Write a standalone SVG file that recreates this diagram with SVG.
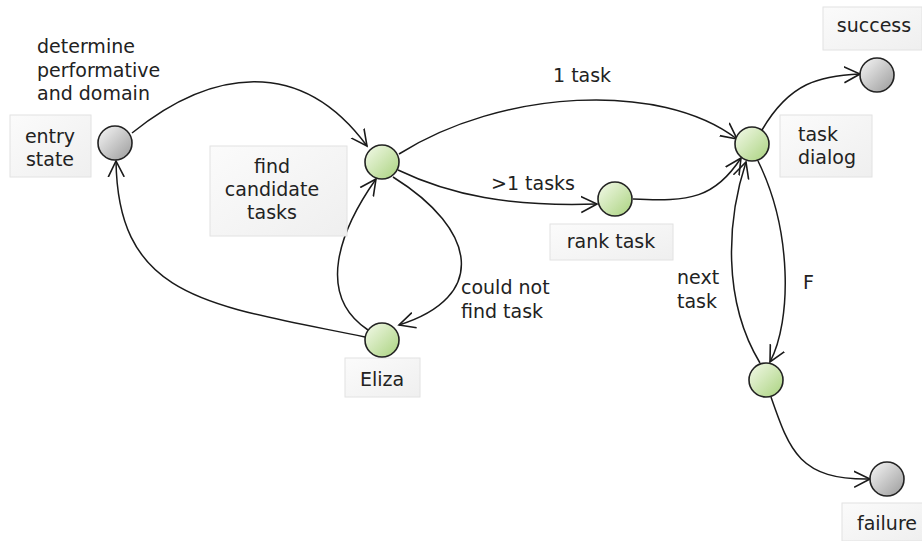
<svg xmlns="http://www.w3.org/2000/svg" width="922" height="541" viewBox="0 0 922 541">
<style>
text{font-family:"DejaVu Sans","Liberation Sans",sans-serif;font-size:19px;fill:#222}
.box{fill:url(#bg);stroke:#e2e2e2;stroke-width:1}
.g{fill:url(#gg);stroke:#222;stroke-width:1.6}
.s{fill:url(#sg);stroke:#222;stroke-width:1.6}
.e{fill:none;stroke:#1a1a1a;stroke-width:1.5;marker-end:url(#arr)}
.c{text-anchor:middle}
</style>
<defs>
<linearGradient id="bg" x1="0" y1="0" x2="1" y2="1"><stop offset="0" stop-color="#fbfbfb"/><stop offset="1" stop-color="#efefef"/></linearGradient>
<linearGradient id="gg" x1="0" y1="0" x2="1" y2="1"><stop offset="0" stop-color="#f4faea"/><stop offset="1" stop-color="#a9d27e"/></linearGradient>
<linearGradient id="sg" x1="0" y1="0" x2="1" y2="1"><stop offset="0" stop-color="#f8f8f8"/><stop offset="1" stop-color="#9a9a9a"/></linearGradient>
<marker id="arr" markerUnits="userSpaceOnUse" markerWidth="20" markerHeight="20" refX="16" refY="8" orient="auto" viewBox="0 0 20 16">
<path d="M0,0 L16,8 L0,16" fill="none" stroke="#1a1a1a" stroke-width="1.6"/>
</marker>
</defs>
<g id="edges">
<path class="e" d="M132,133 C210,70 300,55 367,146"/>
<path class="e" d="M399,154 C500,90 660,80 737,139"/>
<path class="e" d="M398,170 C450,195 510,207 597,204"/>
<path class="e" d="M633,199 C690,202 715,198 741,158"/>
<path class="e" d="M393,177 C478,230 488,297 399,325"/>
<path class="e" d="M368,330 C315,295 340,230 376,179"/>
<path class="e" d="M365,337 C210,305 118,300 116,161"/>
<path class="e" d="M762,130 C790,82 820,76 860,74"/>
<path class="e" d="M758,161 C792,230 792,320 770,362"/>
<path class="e" d="M760,363 C722,300 727,220 746,162"/>
<path class="e" d="M771,397 C790,452 800,480 870,479"/>
</g>
<g id="edge-labels">
<text x="37" y="53">determine</text>
<text x="37" y="77">performative</text>
<text x="37" y="100">and domain</text>
<text x="553" y="82">1 task</text>
<text x="491" y="190">&gt;1 tasks</text>
<text x="461" y="294">could not</text>
<text x="461" y="318">find task</text>
<text x="677" y="284">next</text>
<text x="677" y="308">task</text>
<text x="803" y="289">F</text>
</g>
<g id="entry">
<rect class="box" x="10" y="115" width="81" height="62"/>
<text class="c" x="50" y="143">entry</text>
<text class="c" x="50" y="166">state</text>
<circle class="s" cx="115" cy="143" r="17"/>
</g>
<g id="find">
<rect class="box" x="210" y="146" width="137" height="90"/>
<text class="c" x="272" y="173">find</text>
<text class="c" x="272" y="196">candidate</text>
<text class="c" x="272" y="219">tasks</text>
<circle class="g" cx="382" cy="162" r="17"/>
</g>
<g id="rank">
<rect class="box" x="550" y="224" width="123" height="36"/>
<text class="c" x="611" y="248">rank task</text>
<circle class="g" cx="615" cy="199" r="17"/>
</g>
<g id="taskdialog">
<rect class="box" x="780" y="115" width="92" height="62"/>
<text x="798" y="141">task</text>
<text x="798" y="164">dialog</text>
<circle class="g" cx="752" cy="144" r="17"/>
</g>
<g id="success">
<rect class="box" x="823" y="7" width="99" height="43"/>
<text class="c" x="874" y="32">success</text>
<circle class="s" cx="877" cy="75" r="17"/>
</g>
<g id="eliza">
<rect class="box" x="345" y="358" width="75" height="39"/>
<text class="c" x="382" y="386">Eliza</text>
<circle class="g" cx="382" cy="340" r="17"/>
</g>
<g id="next">
<circle class="g" cx="766" cy="380" r="17"/>
</g>
<g id="failure">
<rect class="box" x="842" y="503" width="81" height="38"/>
<text class="c" x="887" y="530">failure</text>
<circle class="s" cx="887" cy="479" r="17"/>
</g>
</svg>
